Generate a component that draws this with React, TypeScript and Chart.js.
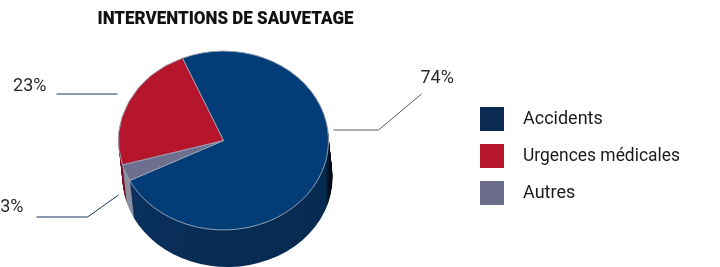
import React, { useEffect, useRef } from "react";
import { Chart, registerables } from "chart.js";

Chart.register(...registerables);

const TITLE = "INTERVENTIONS DE SAUVETAGE";
const categories = ["Accidents", "Urgences médicales", "Autres"];
const values = [74, 23, 3];
const percentLabels = ["74%", "23%", "3%"];
const topColors = ["#033d78", "#b5162b", "#6e6e8e"];
const sideColors = ["#062a50", "#7a1020", "#8e8ea3"];
const legendColors = ["#0b2a52", "#b5162b", "#6b6b8b"];
// clockwise order of slices on the pie
const drawOrder = [0, 2, 1];

const FONT = "Roboto, 'DejaVu Sans', sans-serif";
const K = 0.852; // vertical squash of the pie top
const DEPTH = 37; // thickness of the 3D side
const SHIFT = 4; // horizontal drift of the side

const pie3d = {
  id: "pie3d",
  beforeDatasetsDraw(chart: any) {
    const ctx: CanvasRenderingContext2D = chart.ctx;
    const arcs = chart.getDatasetMeta(0).data as any[];
    ctx.save();
    if (!arcs.length) return;
    const cx = arcs[0].x;
    const cy = arcs[0].y;
    const r = arcs[0].outerRadius;
    ctx.translate(cx, cy);
    ctx.scale(1, K);
    ctx.translate(-cx, -cy);
    const grad = ctx.createLinearGradient(cx - r, 0, cx + r + SHIFT, 0);
    grad.addColorStop(0, "#0b3160");
    grad.addColorStop(0.5, "#072b52");
    grad.addColorStop(0.965, "#062a50");
    grad.addColorStop(0.985, "#02101f");
    grad.addColorStop(1, "#000000");
    for (let d = DEPTH; d >= 1; d--) {
      const oy = d / K;
      const ox = (SHIFT * d) / DEPTH;
      arcs.forEach((a: any, i: number) => {
        const cat = drawOrder[i];
        ctx.beginPath();
        ctx.moveTo(a.x + ox, a.y + oy);
        ctx.arc(a.x + ox, a.y + oy, a.outerRadius, a.startAngle, a.endAngle);
        ctx.closePath();
        ctx.fillStyle = cat === 0 ? grad : sideColors[cat];
        ctx.fill();
      });
    }
  },
  afterDatasetsDraw(chart: any) {
    chart.ctx.restore();
  },
  afterDraw(chart: any) {
    const ctx: CanvasRenderingContext2D = chart.ctx;
    const arcs = chart.getDatasetMeta(0).data as any[];
    if (!arcs.length) return;
    const cx = arcs[0].x;
    const cy = arcs[0].y;
    const r = arcs[0].outerRadius;

    ctx.save();
    // title
    ctx.fillStyle = "#111111";
    ctx.font = `900 19px ${FONT}`;
    ctx.textAlign = "center";
    ctx.textBaseline = "alphabetic";
    ctx.fillText(TITLE, cx + 2, 24, 256);

    // percentage labels with leader lines
    const layout: Record<number, { pts: number[][]; tx: number; ty: number; align: CanvasTextAlign; color: string }> = {
      0: {
        pts: [[r + 5, -11], [r + 50, -11], [r + 93, -47]],
        tx: r + 92, ty: -58, align: "left", color: "#5a5a6a",
      },
      1: {
        pts: [[-r - 62, -47], [-r - 1, -47]],
        tx: -r - 72, ty: -50, align: "right", color: "#1d3461",
      },
      2: {
        pts: [[-r - 82, 76], [-r - 31, 76], [-r, 54]],
        tx: -r - 95, ty: 71, align: "right", color: "#1d3461",
      },
    };
    categories.forEach((_, cat) => {
      const L = layout[cat];
      ctx.beginPath();
      L.pts.forEach(([px, py], j) => {
        if (j === 0) ctx.moveTo(cx + px, cy + py + 0.5);
        else ctx.lineTo(cx + px, cy + py + 0.5);
      });
      ctx.strokeStyle = L.color;
      ctx.lineWidth = 1;
      ctx.stroke();
      ctx.fillStyle = "#2a2a2a";
      ctx.font = `18px ${FONT}`;
      ctx.textAlign = L.align;
      ctx.fillText(percentLabels[cat], cx + L.tx, cy + L.ty, 34);
    });

    // legend
    const lx = 480;
    const ly = 107;
    const step = 37;
    categories.forEach((name, cat) => {
      const y = ly + cat * step;
      ctx.fillStyle = legendColors[cat];
      ctx.fillRect(lx, y, 24, 24);
      ctx.fillStyle = "#1a1a1a";
      ctx.font = `18px ${FONT}`;
      ctx.textAlign = "left";
      ctx.textBaseline = "middle";
      ctx.fillText(name, lx + 43, y + 12, 157);
    });
    ctx.restore();
  },
};

export default function App() {
  const ref = useRef<HTMLCanvasElement | null>(null);
  useEffect(() => {
    document.body.style.margin = "0";
    if (!ref.current) return;
    const chart = new Chart(ref.current, {
      type: "pie",
      data: {
        labels: drawOrder.map((i) => categories[i]),
        datasets: [
          {
            data: drawOrder.map((i) => values[i]),
            backgroundColor: drawOrder.map((i) => topColors[i]),
            borderColor: "#9aa4b8",
            borderWidth: 1,
          },
        ],
      },
      options: {
        responsive: false,
        animation: false,
        rotation: -23,
        layout: { padding: { left: 118, right: 391, top: 35, bottom: 21 } },
        plugins: {
          legend: { display: false },
          tooltip: { enabled: false },
          title: { display: false },
        },
      },
      plugins: [pie3d],
    });
    return () => chart.destroy();
  }, []);
  return (
    <div style={{ width: 720, height: 267, background: "#fff" }}>
      <canvas ref={ref} width={720} height={267} />
    </div>
  );
}
